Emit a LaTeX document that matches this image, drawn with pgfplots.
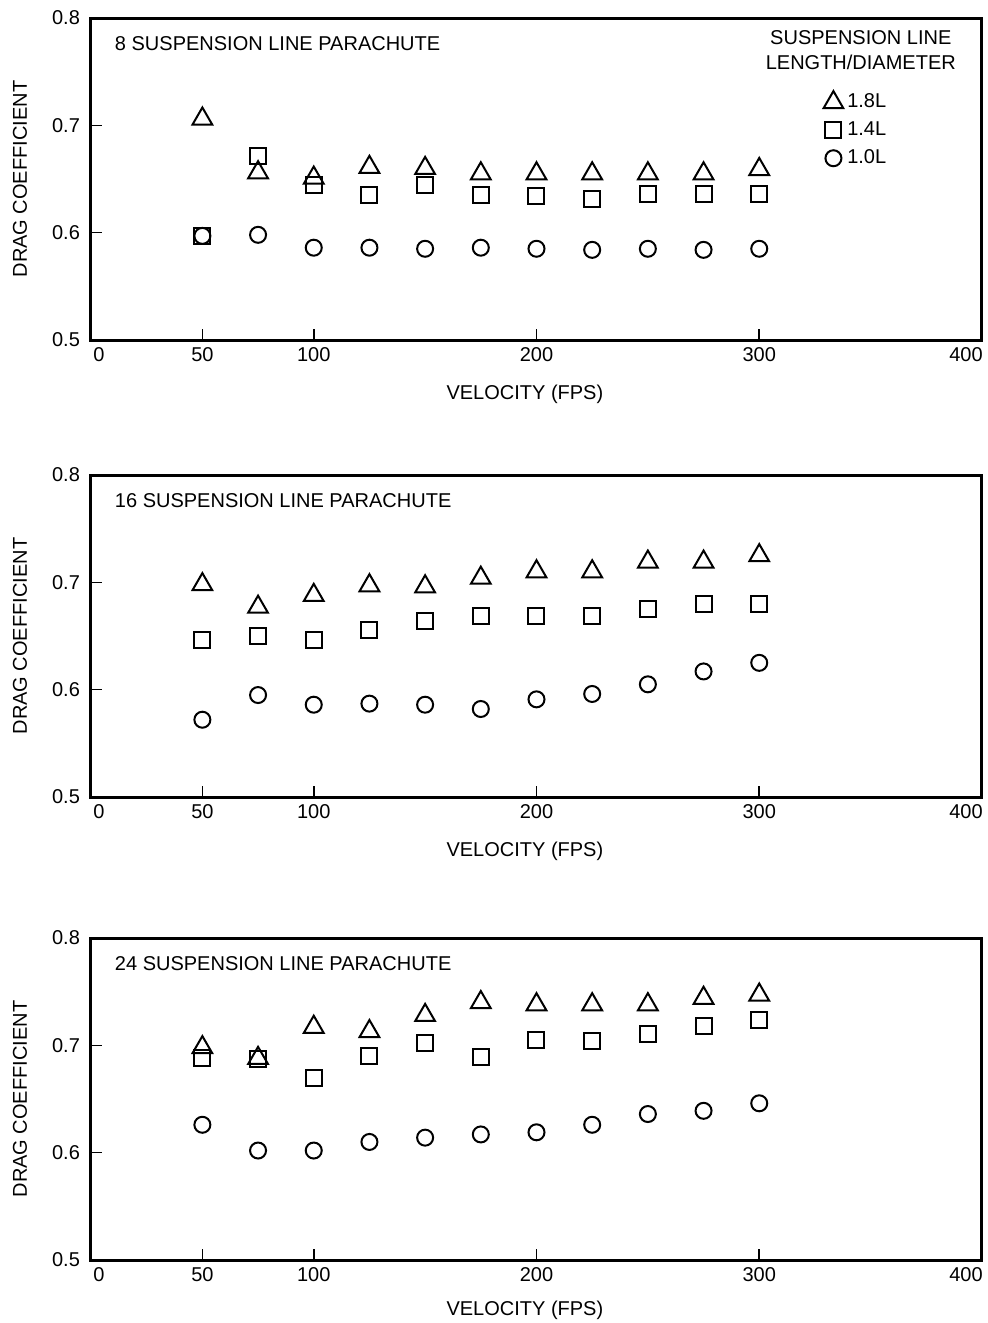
\documentclass[border=0pt]{standalone}
\usepackage{fontspec}
\setmainfont{Liberation Sans}
\usepackage{pgfplots}
\pgfplotsset{compat=1.18}

\pgfplotsset{
  panel/.style={
    scale only axis, width=445.5pt, height=161pt,
    xmin=0, xmax=400, ymin=0.5, ymax=0.8,
    xtick={50,100,200,300},
    extra x ticks={0,400},
    extra x tick labels={{\kern8pt 0},{400\kern16pt\relax}},
    extra x tick style={major tick length=0pt},
    ytick={0.5,0.6,0.7,0.8},
    tick pos=left, tick align=inside,
    major tick length=5.5pt,
    axis line style={line width=1.5pt},
    tick style={line width=0.8pt, black},
    tick label style={font=\fontsize{10}{12}\selectfont},
    /pgf/number format/assume math mode=true,
    yticklabel style={/pgf/number format/fixed, /pgf/number format/fixed zerofill, /pgf/number format/precision=1, xshift=-2pt},
    xlabel={VELOCITY (FPS)}, ylabel={DRAG COEFFICIENT},
    every axis x label/.style={at={(rel axis cs:0.487,0)}, anchor=center, yshift=-27pt, font=\fontsize{10}{12}\selectfont},
    every axis y label/.style={at={(rel axis cs:-0.0797,0.5)}, anchor=center, rotate=90, font=\fontsize{10}{12}\selectfont},
    legend image code/.code={\draw[#1] plot coordinates {(0pt,0pt)};},
  },
  tri/.style={only marks, mark=triangle, mark size=5.7pt, mark options={line width=1pt, black}},
  sq/.style={only marks, mark=square, mark size=4pt, mark options={line width=1pt, black}},
  ci/.style={only marks, mark=o, mark size=4pt, mark options={line width=1pt, black}},
}

\begin{document}
\begin{tikzpicture}
\useasboundingbox (-45.5pt,9pt) rectangle (448.5pt,-652.5pt);

% ---------- Panel 1: 8 suspension lines ----------
\begin{axis}[panel, at={(0pt,0pt)}, anchor=north west,
  legend style={draw=none, fill=none, at={(rel axis cs:0.815,0.79)}, anchor=north west,
    font=\fontsize{10}{12}\selectfont, row sep=1.5pt, cells={anchor=west},
    /tikz/every even column/.append style={column sep=0pt}},
  legend cell align=left]
\addplot[tri] coordinates {(50,0.706) (75,0.656) (100,0.651) (125,0.661) (150,0.660) (175,0.655) (200,0.655) (225,0.655) (250,0.655) (275,0.655) (300,0.659)};
\addlegendentry{1.8L}
\addplot[sq] coordinates {(50,0.597) (75,0.671) (100,0.644) (125,0.635) (150,0.644) (175,0.635) (200,0.634) (225,0.631) (250,0.636) (275,0.636) (300,0.636)};
\addlegendentry{1.4L}
\addplot[ci] coordinates {(50,0.597) (75,0.598) (100,0.586) (125,0.586) (150,0.585) (175,0.586) (200,0.585) (225,0.584) (250,0.585) (275,0.584) (300,0.585)};
\addlegendentry{1.0L}
\node[anchor=west, font=\fontsize{10}{12}\selectfont] at (rel axis cs:0.019,0.922) {8 SUSPENSION LINE PARACHUTE};
\node[align=center, font=\fontsize{10}{12.5}\selectfont] at (rel axis cs:0.864,0.90) {SUSPENSION LINE\\LENGTH/DIAMETER};
\end{axis}

% ---------- Panel 2: 16 suspension lines ----------
\begin{axis}[panel, at={(0pt,-228.5pt)}, anchor=north west]
\addplot[tri] coordinates {(50,0.698) (75,0.677) (100,0.688) (125,0.697) (150,0.696) (175,0.704) (200,0.710) (225,0.710) (250,0.719) (275,0.719) (300,0.725)};
\addplot[sq] coordinates {(50,0.646) (75,0.650) (100,0.646) (125,0.656) (150,0.664) (175,0.669) (200,0.669) (225,0.669) (250,0.675) (275,0.680) (300,0.680)};
\addplot[ci] coordinates {(50,0.572) (75,0.595) (100,0.586) (125,0.587) (150,0.586) (175,0.582) (200,0.591) (225,0.596) (250,0.605) (275,0.617) (300,0.625)};
\node[anchor=west, font=\fontsize{10}{12}\selectfont] at (rel axis cs:0.019,0.922) {16 SUSPENSION LINE PARACHUTE};
\end{axis}

% ---------- Panel 3: 24 suspension lines ----------
\begin{axis}[panel, at={(0pt,-460pt)}, anchor=north west,
  every axis x label/.append style={yshift=2pt}]
\addplot[tri] coordinates {(50,0.698) (75,0.688) (100,0.717) (125,0.713) (150,0.728) (175,0.740) (200,0.738) (225,0.738) (250,0.738) (275,0.744) (300,0.747)};
\addplot[sq] coordinates {(50,0.688) (75,0.687) (100,0.670) (125,0.690) (150,0.702) (175,0.689) (200,0.705) (225,0.704) (250,0.711) (275,0.718) (300,0.724)};
\addplot[ci] coordinates {(50,0.626) (75,0.602) (100,0.602) (125,0.610) (150,0.614) (175,0.617) (200,0.619) (225,0.626) (250,0.636) (275,0.639) (300,0.646)};
\node[anchor=west, font=\fontsize{10}{12}\selectfont] at (rel axis cs:0.019,0.922) {24 SUSPENSION LINE PARACHUTE};
\end{axis}
\end{tikzpicture}
\end{document}
